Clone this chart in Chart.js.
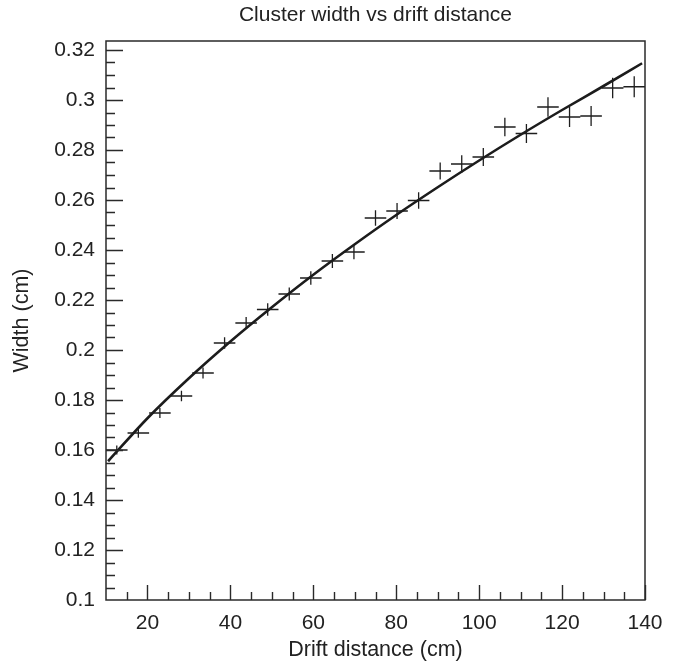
<!DOCTYPE html>
<html>
<head>
<meta charset="utf-8">
<script src="https://cdn.jsdelivr.net/npm/chart.js@4/dist/chart.umd.min.js"></script>
<style>
  html, body { margin: 0; padding: 0; background: #ffffff; }
  canvas { display: block; }
</style>
</head>
<body>
<canvas id="c" width="676" height="667"></canvas>
<script>
// ---- data ----
const binCenters = [12.6, 17.8, 23.0, 28.2, 33.4, 38.6, 43.8, 49.0, 54.2, 59.4, 64.6, 69.8, 75.0,
                    80.2, 85.4, 90.6, 95.8, 101.0, 106.2, 111.4, 116.6, 121.8, 127.0, 132.2, 137.4];
const widths = [0.1600, 0.1668, 0.1748, 0.1816, 0.1908, 0.2028, 0.2108, 0.2162, 0.2224, 0.2288, 0.2356, 0.2392, 0.2528,
                0.2556, 0.2598, 0.2716, 0.2744, 0.2772, 0.2892, 0.2866, 0.2972, 0.2932, 0.2936, 0.3048, 0.3053];
const widthErrors = [0.0018, 0.0019, 0.0020, 0.0021, 0.0022, 0.0023, 0.0024, 0.0025, 0.0026, 0.0027, 0.0028, 0.0029, 0.0031,
                     0.0032, 0.0033, 0.0034, 0.0035, 0.0036, 0.0037, 0.0038, 0.0039, 0.0040, 0.0040, 0.0041, 0.0042];
const binHalfWidth = 2.6;

const fitX = [10.5, 20, 30, 40, 50, 60, 70, 80, 90, 100, 110, 120, 130, 139.3];
const fitY = [0.1555, 0.1727, 0.1887, 0.2034, 0.2171, 0.2301, 0.2423, 0.2540, 0.2651, 0.2758, 0.2861, 0.2960, 0.3056, 0.3147];

const xTicks = [20, 40, 60, 80, 100, 120, 140];
const xTickLabels = ['20', '40', '60', '80', '100', '120', '140'];
const yTicks = [0.1, 0.12, 0.14, 0.16, 0.18, 0.2, 0.22, 0.24, 0.26, 0.28, 0.3, 0.32];
const yTickLabels = ['0.1', '0.12', '0.14', '0.16', '0.18', '0.2', '0.22', '0.24', '0.26', '0.28', '0.3', '0.32'];
const xMinorStep = 5, yMinorStep = 0.005;

// ---- styling ----
const FONT = '"Liberation Sans", Arial, Helvetica, sans-serif';
const INK = '#222222';

const errorCrosses = {
  id: 'errorCrosses',
  beforeDatasetsDraw(chart) {
    const { ctx, scales: { x, y } } = chart;
    ctx.save();
    ctx.strokeStyle = '#1e1e1e';
    ctx.lineWidth = 1.3;
    ctx.beginPath();
    binCenters.forEach((cx, i) => {
      const px = x.getPixelForValue(cx);
      const py = y.getPixelForValue(widths[i]);
      ctx.moveTo(x.getPixelForValue(cx - binHalfWidth), py);
      ctx.lineTo(x.getPixelForValue(cx + binHalfWidth), py);
      ctx.moveTo(px, y.getPixelForValue(widths[i] - widthErrors[i]));
      ctx.lineTo(px, y.getPixelForValue(widths[i] + widthErrors[i]));
    });
    ctx.stroke();
    ctx.restore();
  }
};

const frameTicks = {
  id: 'frameTicks',
  afterDatasetsDraw(chart) {
    const { ctx, chartArea: a, scales: { x, y } } = chart;
    ctx.save();
    ctx.strokeStyle = '#2a2a2a';
    ctx.lineWidth = 1.4;
    ctx.beginPath();
    // x ticks (inward, from bottom edge)
    for (let k = Math.ceil(x.min / xMinorStep); k * xMinorStep <= x.max + 1e-9; k++) {
      const v = k * xMinorStep;
      if (v <= x.min + 1e-9) continue;
      const major = xTicks.some(t => Math.abs(t - v) < 1e-9);
      const px = Math.round(x.getPixelForValue(v)) + 0.5;
      ctx.moveTo(px, a.bottom);
      ctx.lineTo(px, a.bottom - (major ? 15 : 8));
    }
    // y ticks (inward, from left edge)
    for (let k = Math.ceil(y.min / yMinorStep - 1e-6); k * yMinorStep <= y.max + 1e-9; k++) {
      const v = k * yMinorStep;
      if (v <= y.min + 1e-9) continue;
      const major = yTicks.some(t => Math.abs(t - v) < 1e-9);
      const py = Math.round(y.getPixelForValue(v)) + 0.5;
      ctx.moveTo(a.left, py);
      ctx.lineTo(a.left + (major ? 17 : 9), py);
    }
    ctx.stroke();
    ctx.lineWidth = 1.5;
    ctx.strokeRect(a.left, a.top, a.right - a.left, a.bottom - a.top);
    ctx.restore();
  }
};

new Chart(document.getElementById('c'), {
  type: 'scatter',
  data: {
    datasets: [
      {
        label: 'Cluster width',
        data: binCenters.map((cx, i) => ({ x: cx, y: widths[i] })),
        pointRadius: 0,
        showLine: false
      },
      {
        label: 'Fit',
        type: 'line',
        data: fitX.map((fx, i) => ({ x: fx, y: fitY[i] })),
        showLine: true,
        pointRadius: 0,
        borderColor: '#1c1c1c',
        borderWidth: 2.6,
        cubicInterpolationMode: 'monotone',
        fill: false
      }
    ]
  },
  options: {
    responsive: false,
    animation: false,
    devicePixelRatio: 1,
    layout: { padding: { left: 0, right: 31, top: 0, bottom: 0 } },
    plugins: {
      legend: { display: false },
      tooltip: { enabled: false },
      title: {
        display: true,
        fullSize: false,
        text: 'Cluster width vs drift distance',
        color: INK,
        font: { family: FONT, size: 21, weight: 'normal' },
        padding: { top: 2.5, bottom: 13.3 }
      }
    },
    scales: {
      x: {
        type: 'linear',
        min: 10,
        max: 140,
        afterBuildTicks: s => { s.ticks = xTicks.map(v => ({ value: v })); },
        afterFit: s => { s.height = 67; },
        grid: { display: false, drawTicks: false },
        border: { display: false },
        ticks: {
          autoSkip: false,
          maxRotation: 0,
          padding: 11,
          color: INK,
          font: { family: FONT, size: 21 },
          callback: (v) => xTickLabels[xTicks.indexOf(v)]
        },
        title: {
          display: true,
          text: 'Drift distance (cm)',
          color: INK,
          font: { family: FONT, size: 21.5 },
          padding: { top: 0, bottom: 4.1 }
        }
      },
      y: {
        type: 'linear',
        min: 0.1,
        max: 0.3236,
        afterBuildTicks: s => { s.ticks = yTicks.map(v => ({ value: v })); },
        afterFit: s => { s.width = 106; },
        grid: { display: false, drawTicks: false },
        border: { display: false },
        ticks: {
          autoSkip: false,
          padding: 11,
          color: INK,
          font: { family: FONT, size: 21 },
          callback: (v) => {
            const i = yTicks.findIndex(t => Math.abs(t - v) < 1e-9);
            return i >= 0 ? yTickLabels[i] : '';
          }
        },
        title: {
          display: true,
          text: 'Width (cm)',
          color: INK,
          font: { family: FONT, size: 21.5 },
          padding: { top: 9, bottom: 0 }
        }
      }
    }
  },
  plugins: [errorCrosses, frameTicks]
});
</script>
</body>
</html>
